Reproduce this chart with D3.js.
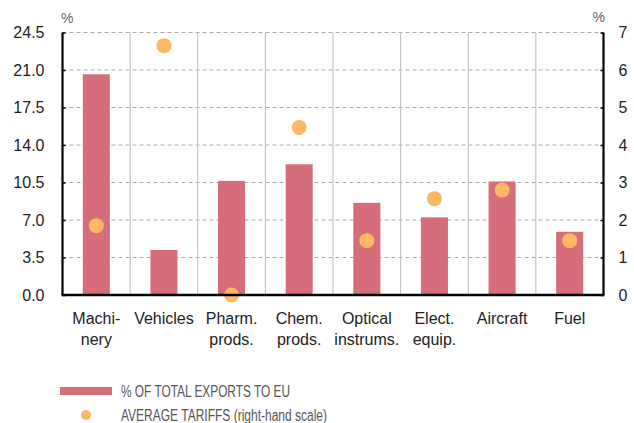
<!DOCTYPE html>
<html>
<head>
<meta charset="utf-8">
<script src="https://cdn.jsdelivr.net/npm/d3@7"></script>
<style>
  body { margin: 0; background: #fff; }
  text { font-family: "Liberation Sans", Arial, sans-serif; }
  .legend text { font-family: "Liberation Sans Narrow", "Liberation Sans", sans-serif; }
</style>
</head>
<body>
<div id="chart"></div>
<script>
// categories (two-line labels)
const categories = ["Machinery", "Vehicles", "Pharm. prods.", "Chem. prods.", "Optical instrums.", "Elect. equip.", "Aircraft", "Fuel"];
const labelLines = [["Machi-", "nery"], ["Vehicles"], ["Pharm.", "prods."], ["Chem.", "prods."], ["Optical", "instrums."], ["Elect.", "equip."], ["Aircraft"], ["Fuel"]];
// % of total exports to EU (left scale)
const exportsShare = [20.6, 4.2, 10.65, 12.2, 8.6, 7.25, 10.6, 5.9];
// average tariffs (right scale)
const tariffs = [1.85, 6.65, 0.0, 4.47, 1.45, 2.57, 2.8, 1.45];
const leftTicks = [0, 3.5, 7, 10.5, 14, 17.5, 21, 24.5];
const rightTicks = [0, 1, 2, 3, 4, 5, 6, 7];

const w = 634, h = 423;
const padL = 62.5, padR = 603.5, padT = 32.5, padB = 295;

const svg = d3.select("#chart").append("svg")
  .attr("width", w).attr("height", h);

const x = d3.scaleBand().domain(categories).range([padL, padR]);
const yL = d3.scaleLinear().domain([0, 24.5]).range([padB, padT]);
const yR = d3.scaleLinear().domain([0, 7]).range([padB, padT]);

// horizontal dashed grid
svg.append("g").selectAll("line").data(leftTicks.slice(1)).enter().append("line")
  .attr("x1", padL).attr("x2", padR)
  .attr("y1", d => yL(d)).attr("y2", d => yL(d))
  .attr("stroke", "#aaa").attr("stroke-width", 1)
  .attr("stroke-dasharray", "4,3");

// vertical separators
svg.append("g").selectAll("line").data(categories.slice(1)).enter().append("line")
  .attr("x1", d => x(d)).attr("x2", d => x(d))
  .attr("y1", padT).attr("y2", padB)
  .attr("stroke", "#bbb").attr("stroke-width", 1);

// bars
const bw = x.bandwidth() * 0.4;
svg.append("g").selectAll("rect").data(exportsShare).enter().append("rect")
  .attr("x", (d, i) => x(categories[i]) + x.bandwidth() / 2 - bw / 2)
  .attr("y", d => yL(d))
  .attr("width", bw)
  .attr("height", d => padB - yL(d))
  .attr("fill", "#d76d7b");

// dots
svg.append("g").selectAll("circle").data(tariffs).enter().append("circle")
  .attr("cx", (d, i) => x(categories[i]) + x.bandwidth() / 2)
  .attr("cy", d => yR(d))
  .attr("r", 7.5)
  .attr("fill", "#fdb863");

// axes
const leftAxis = d3.axisLeft(yL).tickValues(leftTicks).tickFormat(d3.format(".1f")).tickSize(-3).tickPadding(18);
const gl = svg.append("g").attr("transform", "translate(" + padL + ",0)").call(leftAxis);
const rightAxis = d3.axisRight(yR).tickValues(rightTicks).tickFormat(d3.format("d")).tickSize(-3).tickPadding(15);
const gr = svg.append("g").attr("transform", "translate(" + padR + ",0)").call(rightAxis);
[gl, gr].forEach(g => {
  g.select(".domain").attr("stroke", "#000").attr("stroke-width", 2.2)
    .attr("d", "M0," + padT + "V" + padB);
  g.selectAll(".tick line").attr("stroke", "#000").attr("stroke-width", 1.5);
  g.selectAll(".tick text").attr("font-size", 16).attr("fill", "#222")
    .attr("font-family", "Liberation Sans, Arial, sans-serif");
});

svg.append("line")
  .attr("x1", padL - 1).attr("x2", padR + 1)
  .attr("y1", padB).attr("y2", padB)
  .attr("stroke", "#000").attr("stroke-width", 2.5);

// unit labels
svg.append("text").attr("x", 61).attr("y", 23).attr("font-size", 14).attr("fill", "#666").text("%");
svg.append("text").attr("x", 605).attr("y", 22).attr("text-anchor", "end").attr("font-size", 14).attr("fill", "#666").text("%");

// category labels
const lab = svg.append("g").selectAll("text").data(categories).enter().append("text")
  .attr("x", d => x(d) + x.bandwidth() / 2)
  .attr("y", 324)
  .attr("text-anchor", "middle")
  .attr("font-size", 16)
  .attr("fill", "#222");
lab.each(function (d, i) {
  d3.select(this).selectAll("tspan").data(labelLines[i]).enter().append("tspan")
    .attr("x", x(d) + x.bandwidth() / 2)
    .attr("dy", (t, j) => j === 0 ? 0 : 21)
    .text(t => t);
});

// legend
const leg = svg.append("g").attr("class", "legend");
leg.append("rect").attr("x", 60).attr("y", 387).attr("width", 52).attr("height", 8).attr("fill", "#d76d7b");
leg.append("text").attr("x", 121).attr("y", 397).attr("font-size", 16).attr("fill", "#555")
  .attr("textLength", 169).attr("lengthAdjust", "spacingAndGlyphs")
  .text("% OF TOTAL EXPORTS TO EU");
leg.append("circle").attr("cx", 86).attr("cy", 415).attr("r", 5).attr("fill", "#fdb863");
leg.append("text").attr("x", 121).attr("y", 421).attr("font-size", 16).attr("fill", "#555")
  .attr("textLength", 206).attr("lengthAdjust", "spacingAndGlyphs")
  .text("AVERAGE TARIFFS (right-hand scale)");
</script>
</body>
</html>
